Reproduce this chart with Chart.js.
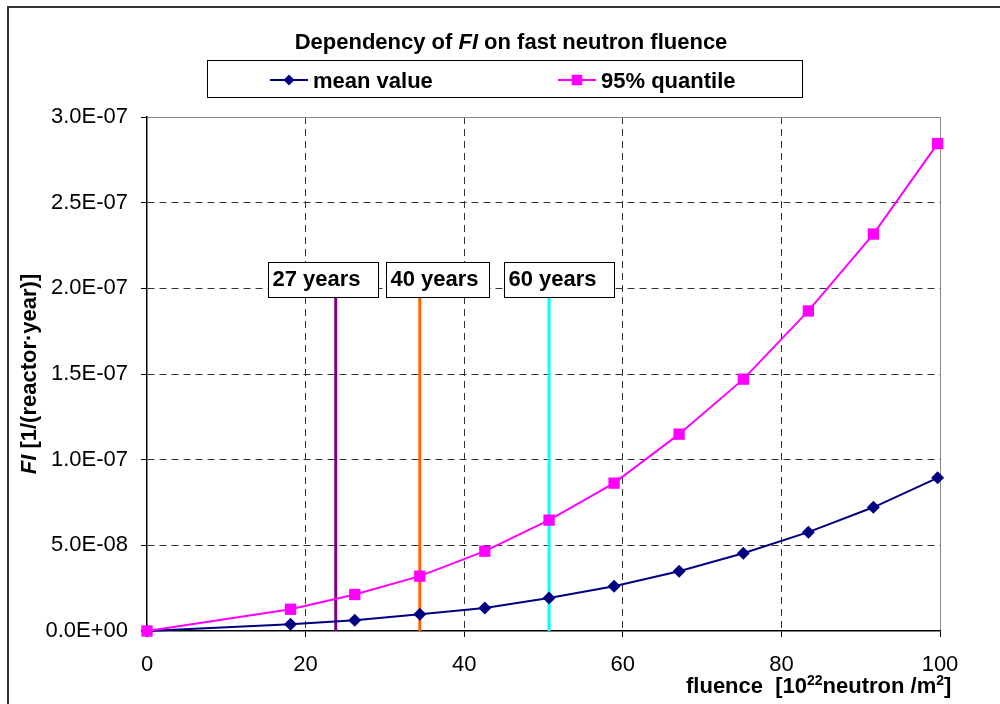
<!doctype html>
<html>
<head>
<title>FI vs fluence</title>
<script src="https://cdn.jsdelivr.net/npm/chart.js@4.4.0/dist/chart.umd.min.js"></script>
<style>
body { margin: 0; background: #fff; }
</style>
</head>
<body>
<canvas id="canvas" width="1000" height="704"></canvas>
<script>
// values
var fluence    = [0, 18.1, 26.2, 34.4, 42.6, 50.7, 58.9, 67.1, 75.2, 83.4, 91.6, 99.7];
var meanValue  = [0, 3.9e-9, 6.3e-9, 9.8e-9, 1.34e-8, 1.93e-8, 2.61e-8, 3.49e-8, 4.54e-8, 5.77e-8, 7.22e-8, 8.94e-8];
var quantile95 = [0, 1.27e-8, 2.13e-8, 3.2e-8, 4.66e-8, 6.47e-8, 8.63e-8, 1.149e-7, 1.47e-7, 1.868e-7, 2.317e-7, 2.845e-7];
var yearLabels  = ['27 years', '40 years', '60 years'];
var yearFluence = [23.8, 34.4, 50.7];
var yearTop     = 1.95e-7;
var yearColors  = ['#800080', '#FF6600', '#00FFFF'];

var FONT = 'Arial, "Liberation Sans", sans-serif';

function toPoints(xs, ys) {
	var out = [];
	for (var i = 0; i < xs.length; i++) out.push({x: xs[i], y: ys[i]});
	return out;
}

function sciLabel(v) {
	if (Math.abs(v) < 1e-20) return '0.0E+00';
	var e = Math.floor(Math.log10(Math.abs(v)) + 1e-9);
	var m = v / Math.pow(10, e);
	var ae = Math.abs(e);
	return m.toFixed(1) + 'E' + (e < 0 ? '-' : '+') + (ae < 10 ? '0' : '') + ae;
}

// draw text made of bold / italic / superscript pieces
function drawPieces(ctx, pieces, x, y, size, measureOnly) {
	var start = x;
	pieces.forEach(function(p) {
		var fs = p.sup ? Math.round(size * 0.64) : size;
		ctx.font = (p.it ? 'italic ' : '') + 'bold ' + fs + 'px ' + FONT;
		if (!measureOnly) ctx.fillText(p.t, x, y - (p.sup ? size * 0.36 : 0));
		x += ctx.measureText(p.t).width;
	});
	return x - start;
}

function gridColor(edgeValue) {
	return function(c) {
		if (!c.tick) return '#333';
		if (Math.abs(c.tick.value) < 1e-12) return 'rgba(0,0,0,0)';
		if (Math.abs(c.tick.value - edgeValue) < 1e-12) return '#888';
		return '#333';
	};
}
function gridDash(edgeValue) {
	return function(c) {
		return c.tick && Math.abs(c.tick.value - edgeValue) < 1e-12 ? [] : [7, 5];
	};
}

var datasets = [
	{
		label: 'mean value',
		data: toPoints(fluence, meanValue),
		borderColor: '#000080',
		backgroundColor: '#000080',
		borderWidth: 2,
		pointStyle: 'rectRot',
		pointRadius: 6.5,
		pointBorderWidth: 0,
		showLine: true,
		clip: false,
		order: 1
	},
	{
		label: '95% quantile',
		data: toPoints(fluence, quantile95),
		borderColor: '#FF00FF',
		backgroundColor: '#FF00FF',
		borderWidth: 2,
		pointStyle: 'rect',
		pointRadius: 8,
		pointBorderWidth: 0,
		showLine: true,
		clip: false,
		order: 0
	}
];
for (var k = 0; k < yearFluence.length; k++) {
	datasets.push({
		label: yearLabels[k],
		data: [{x: yearFluence[k], y: 0}, {x: yearFluence[k], y: yearTop}],
		borderColor: yearColors[k],
		borderWidth: 3,
		pointRadius: 0,
		showLine: true,
		order: 2 + k
	});
}

var decorations = {
	id: 'decorations',
	afterDatasetsDraw: function(chart) {
		var ctx = chart.ctx;
		var xs = chart.scales.x, ys = chart.scales.y;
		// year labels
		var offsets = [-68, -34, -45];
		var widths = [110, 103, 110];
		ctx.save();
		for (var i = 0; i < yearLabels.length; i++) {
			var px = xs.getPixelForValue(yearFluence[i]);
			var py = ys.getPixelForValue(yearTop);
			var bx = Math.round(px + offsets[i]) + 0.5, by = Math.round(py - 35) + 0.5;
			ctx.fillStyle = '#fff';
			ctx.fillRect(bx, by, widths[i], 35);
			ctx.strokeStyle = '#000';
			ctx.lineWidth = 1;
			ctx.strokeRect(bx, by, widths[i], 35);
			ctx.fillStyle = '#000';
			ctx.font = 'bold 22px ' + FONT;
			ctx.textBaseline = 'alphabetic';
			ctx.textAlign = 'left';
			ctx.fillText(yearLabels[i], bx + 4, by + 23);
		}
		ctx.restore();
	},
	afterDraw: function(chart) {
		var ctx = chart.ctx;
		var area = chart.chartArea;
		ctx.save();
		// outer frame
		ctx.strokeStyle = '#333';
		ctx.lineWidth = 2;
		ctx.strokeRect(8, 7, 1100, 800);

		ctx.fillStyle = '#000';
		ctx.textBaseline = 'alphabetic';
		ctx.textAlign = 'left';

		// title
		var title = [{t: 'Dependency of '}, {t: 'FI', it: true}, {t: ' on fast neutron fluence'}];
		var tw = drawPieces(ctx, title, 0, 0, 22, true);
		drawPieces(ctx, title, 511 - tw / 2, 49, 22);

		// legend box
		ctx.strokeStyle = '#000';
		ctx.lineWidth = 1;
		ctx.strokeRect(207.5, 60.5, 595, 37);
		var items = [{ds: 0, x: 270}, {ds: 1, x: 558}];
		items.forEach(function(it) {
			var d = chart.data.datasets[it.ds];
			var ly = 80;
			ctx.strokeStyle = d.borderColor;
			ctx.lineWidth = 2;
			ctx.beginPath();
			ctx.moveTo(it.x, ly);
			ctx.lineTo(it.x + 38, ly);
			ctx.stroke();
			ctx.fillStyle = d.backgroundColor;
			Chart.helpers.drawPoint(ctx, {pointStyle: d.pointStyle, rotation: 0, radius: d.pointStyle === 'rect' ? 7.5 : 5.5, borderWidth: 0}, it.x + 19, ly);
			ctx.fillStyle = '#000';
			ctx.font = 'bold 22px ' + FONT;
			ctx.fillText(d.label, it.x + 43, ly + 8);
		});

		// y axis title
		var ytitle = [{t: 'FI', it: true}, {t: ' [1/(reactor\u00B7year)]'}];
		var yw = drawPieces(ctx, ytitle, 0, 0, 22, true);
		ctx.translate(36, (area.top + area.bottom) / 2);
		ctx.rotate(-Math.PI / 2);
		drawPieces(ctx, ytitle, -yw / 2, 0, 22);
		ctx.setTransform(1, 0, 0, 1, 0, 0);

		// x axis title
		var xtitle = [{t: 'fluence  [10'}, {t: '22', sup: true}, {t: 'neutron /m'}, {t: '2', sup: true}, {t: ']'}];
		drawPieces(ctx, xtitle, 686, 693, 22);
		ctx.restore();
	}
};

var ctx = document.getElementById('canvas').getContext('2d');
window.myChart = new Chart(ctx, {
	type: 'scatter',
	data: { datasets: datasets },
	options: {
		responsive: false,
		animation: false,
		layout: { padding: { top: 117, right: 60, left: 0, bottom: 0 } },
		plugins: {
			legend: { display: false },
			title: { display: false },
			tooltip: { enabled: false }
		},
		scales: {
			x: {
				type: 'linear',
				min: 0,
				max: 100,
				ticks: {
					stepSize: 20,
					color: '#000',
					padding: 15,
					font: { family: FONT, size: 22 }
				},
				grid: {
					color: gridColor(100),
					tickColor: '#000',
					tickLength: 6,
					lineWidth: 1
				},
				border: {
					color: '#000',
					width: 1.5,
					dash: gridDash(100)
				},
				afterFit: function(s) { s.height = 73; }
			},
			y: {
				type: 'linear',
				min: 0,
				max: 3e-7,
				ticks: {
					stepSize: 5e-8,
					color: '#000',
					padding: 13,
					font: { family: FONT, size: 22 },
					callback: function(v) { return sciLabel(v); }
				},
				grid: {
					color: gridColor(3e-7),
					tickColor: '#000',
					tickLength: 6,
					lineWidth: 1
				},
				border: {
					color: '#000',
					width: 1.5,
					dash: gridDash(3e-7)
				},
				afterFit: function(s) { s.width = 147; }
			}
		}
	},
	plugins: [decorations]
});
</script>
</body>
</html>
